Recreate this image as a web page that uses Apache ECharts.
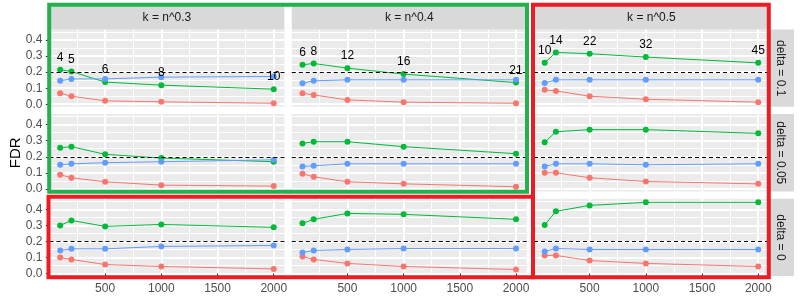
<!DOCTYPE html>
<html><head><meta charset="utf-8">
<script src="https://cdn.jsdelivr.net/npm/echarts@6/dist/echarts.min.js"></script>
<style>html,body{margin:0;padding:0;background:#fff}#c{width:800px;height:300px}</style>
</head><body><div id="c"></div>
<script>
// ---------- data ----------
const nValues = [100, 200, 500, 1000, 2000];
const kStrips = ['k = n^0.3', 'k = n^0.4', 'k = n^0.5'];
const deltaStrips = ['delta = 0.1', 'delta = 0.05', 'delta = 0'];
const yTicks = [0, 0.1, 0.2, 0.3, 0.4];
const yMinorTicks = [0.05, 0.15, 0.25, 0.35, 0.45];
const xTicks = [500, 1000, 1500, 2000];
const xMinorTicks = [250, 750, 1250, 1750];
const yTitle = 'FDR';
const targetFDR = 0.2;

// k values printed above the green points (top row)
const kLabels_k03 = [4, 5, 6, 8, 10];
const kLabels_k04 = [6, 8, 12, 16, 21];
const kLabels_k05 = [10, 14, 22, 32, 45];

// delta = 0.1
const red_d01_k03   = [0.069, 0.050, 0.021, 0.015, 0.006];
const green_d01_k03 = [0.215, 0.204, 0.138, 0.119, 0.094];
const blue_d01_k03  = [0.146, 0.158, 0.158, 0.169, 0.173];
const red_d01_k04   = [0.069, 0.058, 0.027, 0.013, 0.006];
const green_d01_k04 = [0.246, 0.254, 0.225, 0.188, 0.135];
const blue_d01_k04  = [0.131, 0.146, 0.152, 0.152, 0.152];
const red_d01_k05   = [0.090, 0.083, 0.050, 0.031, 0.013];
const green_d01_k05 = [0.258, 0.323, 0.315, 0.294, 0.258];
const blue_d01_k05  = [0.133, 0.152, 0.152, 0.152, 0.152];
// delta = 0.05
const red_d005_k03   = [0.088, 0.069, 0.044, 0.023, 0.017];
const green_d005_k03 = [0.256, 0.263, 0.215, 0.192, 0.169];
const blue_d005_k03  = [0.150, 0.156, 0.163, 0.169, 0.181];
const red_d005_k04   = [0.094, 0.075, 0.044, 0.031, 0.013];
const green_d005_k04 = [0.283, 0.294, 0.294, 0.263, 0.219];
const blue_d005_k04  = [0.140, 0.144, 0.156, 0.156, 0.156];
const red_d005_k05   = [0.100, 0.100, 0.069, 0.046, 0.031];
const green_d005_k05 = [0.290, 0.356, 0.369, 0.369, 0.346];
const blue_d005_k05  = [0.140, 0.156, 0.156, 0.150, 0.156];
// delta = 0
const red_d0_k03   = [0.100, 0.088, 0.056, 0.044, 0.029];
const green_d0_k03 = [0.300, 0.331, 0.294, 0.306, 0.288];
const blue_d0_k03  = [0.144, 0.154, 0.154, 0.169, 0.175];
const red_d0_k04   = [0.106, 0.088, 0.063, 0.044, 0.025];
const green_d0_k04 = [0.313, 0.338, 0.375, 0.369, 0.338];
const blue_d0_k04  = [0.131, 0.144, 0.150, 0.156, 0.156];
const red_d0_k05   = [0.113, 0.113, 0.081, 0.063, 0.044];
const green_d0_k05 = [0.302, 0.388, 0.425, 0.444, 0.444];
const blue_d0_k05  = [0.138, 0.156, 0.150, 0.150, 0.150];

// ---------- tables built from the arrays ----------
const panels = [
  [{red: red_d01_k03, green: green_d01_k03, blue: blue_d01_k03, labels: kLabels_k03},
   {red: red_d01_k04, green: green_d01_k04, blue: blue_d01_k04, labels: kLabels_k04},
   {red: red_d01_k05, green: green_d01_k05, blue: blue_d01_k05, labels: kLabels_k05}],
  [{red: red_d005_k03, green: green_d005_k03, blue: blue_d005_k03},
   {red: red_d005_k04, green: green_d005_k04, blue: blue_d005_k04},
   {red: red_d005_k05, green: green_d005_k05, blue: blue_d005_k05}],
  [{red: red_d0_k03, green: green_d0_k03, blue: blue_d0_k03},
   {red: red_d0_k04, green: green_d0_k04, blue: blue_d0_k04},
   {red: red_d0_k05, green: green_d0_k05, blue: blue_d0_k05}]
];

// ---------- layout / style ----------
const FONT = '"Liberation Sans", Arial, sans-serif';
const colLeft = [49.5, 291.8, 534.0];
const panelW = 234.9;
const rowTop = [29.5, 114.1, 198.8];
const panelH = 77.3;
const xMin = 5, xMax = 2095;
const yMin = -0.016, yMax = 0.466;
const colors = {red: '#F8766D', green: '#00BA38', blue: '#619CFF'};

const grids = [], xAxes = [], yAxes = [], series = [], graphics = [];

for (let r = 0; r < 3; r++) {
  for (let c = 0; c < 3; c++) {
    const i = r * 3 + c;
    grids.push({left: colLeft[c], top: rowTop[r], width: panelW, height: panelH,
      show: true, backgroundColor: '#EBEBEB', borderWidth: 0, containLabel: false, outerBoundsMode: 'none'});
    // major x
    xAxes.push({type: 'value', gridIndex: i, min: xMin, max: xMax, position: 'bottom',
      axisLine: {show: false},
      axisTick: {show: r === 2, customValues: xTicks, length: 3.7, lineStyle: {color: '#333333', width: 1}},
      axisLabel: {show: r === 2, customValues: xTicks, margin: 7, color: '#4D4D4D', fontSize: 12, fontFamily: FONT,
        formatter: v => String(v)},
      splitLine: {show: true, lineStyle: {color: '#FFFFFF', width: 2}}});
    // minor x
    xAxes.push({type: 'value', gridIndex: i, min: xMin, max: xMax, position: 'top',
      axisLine: {show: false}, axisTick: {show: false, customValues: xMinorTicks},
      axisLabel: {show: false},
      splitLine: {show: true, lineStyle: {color: '#FFFFFF', width: 1}}});
    // major y
    yAxes.push({type: 'value', gridIndex: i, min: yMin, max: yMax, position: 'left',
      axisLine: {show: false},
      axisTick: {show: c === 0, customValues: yTicks, length: 3.7, lineStyle: {color: '#333333', width: 1}},
      axisLabel: {show: c === 0, customValues: yTicks, margin: 7, color: '#4D4D4D', fontSize: 12, fontFamily: FONT,
        formatter: v => v.toFixed(1)},
      splitLine: {show: true, lineStyle: {color: '#FFFFFF', width: 2}}});
    // minor y
    yAxes.push({type: 'value', gridIndex: i, min: yMin, max: yMax, position: 'right',
      axisLine: {show: false}, axisTick: {show: false, customValues: yMinorTicks},
      axisLabel: {show: false},
      splitLine: {show: true, lineStyle: {color: '#FFFFFF', width: 1}}});

    const p = panels[r][c];
    ['red', 'green', 'blue'].forEach(m => {
      const s = {
        type: 'line', xAxisIndex: 2 * i, yAxisIndex: 2 * i,
        data: nValues.map((n, j) => [n, p[m][j]]),
        symbol: 'circle', symbolSize: 6, showSymbol: true,
        itemStyle: {color: colors[m]}, lineStyle: {color: colors[m], width: 1},
        animation: false, silent: true
      };
      if (m === 'green' && p.labels) {
        const labs = p.labels;
        s.label = {show: true, position: 'top', distance: 3, color: '#000000', fontSize: 12, fontFamily: FONT,
          formatter: params => String(labs[params.dataIndex])};
      }
      if (m === 'blue') {
        s.markLine = {silent: true, symbol: ['none', 'none'], label: {show: false},
          lineStyle: {color: '#000000', type: [4, 3], width: 1},
          data: [{yAxis: targetFDR}], animation: false};
      }
      series.push(s);
    });
  }
}

// strips
for (let c = 0; c < 3; c++) {
  graphics.push({type: 'rect', shape: {x: colLeft[c], y: 6, width: panelW, height: 23.5},
    style: {fill: '#D9D9D9'}, z: 10, silent: true});
  graphics.push({type: 'text', x: colLeft[c] + panelW / 2, y: 17.8, z: 11, silent: true,
    style: {text: kStrips[c], fill: '#1A1A1A', font: '12px ' + FONT, align: 'center', verticalAlign: 'middle'}});
}
for (let r = 0; r < 3; r++) {
  graphics.push({type: 'rect', shape: {x: 769, y: rowTop[r], width: 25, height: panelH},
    style: {fill: '#D9D9D9'}, z: 10, silent: true});
  graphics.push({type: 'text', x: 780.5, y: rowTop[r] + panelH / 2, rotation: -Math.PI / 2, z: 11, silent: true,
    style: {text: deltaStrips[r], fill: '#1A1A1A', font: '12px ' + FONT, align: 'center', verticalAlign: 'middle'}});
}
// y title
graphics.push({type: 'text', x: 16, y: 152.8, rotation: Math.PI / 2, z: 11, silent: true,
  style: {text: yTitle, fill: '#000000', font: '15px ' + FONT, align: 'center', verticalAlign: 'middle'}});
// highlight borders
graphics.push({type: 'rect', shape: {x: 49.2, y: 4.7, width: 477.8, height: 187}, z: 20, silent: true,
  style: {fill: 'none', stroke: '#22B14C', lineWidth: 4}});
graphics.push({type: 'rect', shape: {x: 48.5, y: 196.7, width: 484.5, height: 80.5}, z: 20, silent: true,
  style: {fill: 'none', stroke: '#ED1C24', lineWidth: 4}});
graphics.push({type: 'rect', shape: {x: 533, y: 4.7, width: 235.8, height: 272.5}, z: 20, silent: true,
  style: {fill: 'none', stroke: '#ED1C24', lineWidth: 4}});

const chart = echarts.init(document.getElementById('c'), null, {renderer: 'canvas', width: 800, height: 300});
chart.setOption({
  animation: false,
  backgroundColor: '#FFFFFF',
  grid: grids, xAxis: xAxes, yAxis: yAxes, series: series,
  graphic: {elements: graphics}
});
</script></body></html>
